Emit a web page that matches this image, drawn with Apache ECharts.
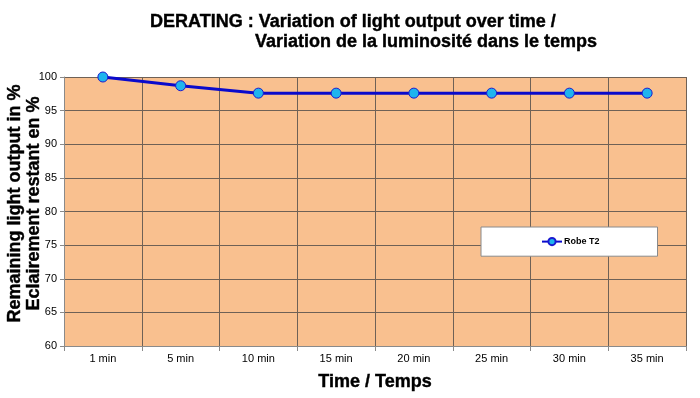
<!DOCTYPE html>
<html>
<head>
<meta charset="utf-8">
<script src="https://cdn.jsdelivr.net/npm/echarts@6/dist/echarts.min.js"></script>
<style>
	html, body { margin: 0; padding: 0; background: #fff; }
	#main { width: 700px; height: 398px; }
</style>
</head>
<body>
<div id="main"></div>
<script>
// 数据
var categories = ['1 min', '5 min', '10 min', '15 min', '20 min', '25 min', '30 min', '35 min'];
var robeT2 = [100, 98.7, 97.6, 97.6, 97.6, 97.6, 97.6, 97.6];
var seriesName = 'Robe T2';

var Font = 'Liberation Sans, Arial, sans-serif';
var GridColor = '#6f6156';
// 粗体文字样式
var boldText = { fontFamily: Font, fontSize: 18, fontWeight: 'bold', color: '#000', textBorderColor: '#000', textBorderWidth: 0.4 };

var myChart = echarts.init(document.getElementById('main'));
var option = {
	animation: false,
	backgroundColor: '#ffffff',
	title: [{
		text: 'DERATING : Variation of light output over time /',
		left: 145,
		top: 8,
		textStyle: boldText
	}, {
		text: 'Variation de la luminosité dans le temps',
		left: 250,
		top: 28,
		textStyle: boldText
	}],
	legend: {
		left: 481,
		top: 227,
		width: 56,
		padding: [10, 58, 10, 60],
		backgroundColor: '#ffffff',
		borderColor: '#8a8a8a',
		borderWidth: 1,
		itemWidth: 20,
		itemHeight: 9,
		itemGap: 2,
		textStyle: { fontFamily: Font, fontSize: 9, fontWeight: 'bold', color: '#000', padding: [0, 0, 0, -3] },
		data: [seriesName]
	},
	grid: {
		left: 64,
		right: 14,
		top: 77,
		bottom: 52,
		outerBoundsMode: 'none',
		containLabel: false,
		show: true,
		backgroundColor: '#f9c08f',
		borderWidth: 0
	},
	xAxis: {
		type: 'category',
		data: categories,
		boundaryGap: true,
		name: 'Time / Temps',
		nameLocation: 'middle',
		nameGap: 27,
		nameTextStyle: boldText,
		axisLine: { lineStyle: { color: '#8a8a8a', width: 1 } },
		axisTick: { show: true, length: 5, lineStyle: { color: '#8a8a8a' } },
		axisLabel: { fontFamily: Font, fontSize: 11, color: '#000', margin: 7 },
		splitLine: { show: true, lineStyle: { color: GridColor, width: 1 } }
	},
	yAxis: {
		type: 'value',
		min: 60,
		max: 100,
		interval: 5,
		name: 'Remaining light output in %\nEclairement restant en %',
		nameLocation: 'middle',
		nameRotate: 90,
		nameGap: 20,
		nameMoveOverlap: false,
		nameTextStyle: Object.assign({}, boldText, { lineHeight: 19, padding: [0, 0, 0, 16] }),
		axisLine: { show: true, lineStyle: { color: '#8a8a8a', width: 1 } },
		axisTick: { show: true, length: 4, lineStyle: { color: '#8a8a8a' } },
		axisLabel: { fontFamily: Font, fontSize: 11, color: '#000', margin: 7 },
		splitLine: { show: true, lineStyle: { color: GridColor, width: 1 } }
	},
	series: [{
		name: seriesName,
		type: 'line',
		data: robeT2,
		symbol: 'circle',
		symbolSize: 10,
		lineStyle: { color: '#0a0acc', width: 3 },
		itemStyle: { color: '#1eb4ee', borderColor: '#1a1ad0', borderWidth: 1 }
	}]
};
myChart.setOption(option);
</script>
</body>
</html>
